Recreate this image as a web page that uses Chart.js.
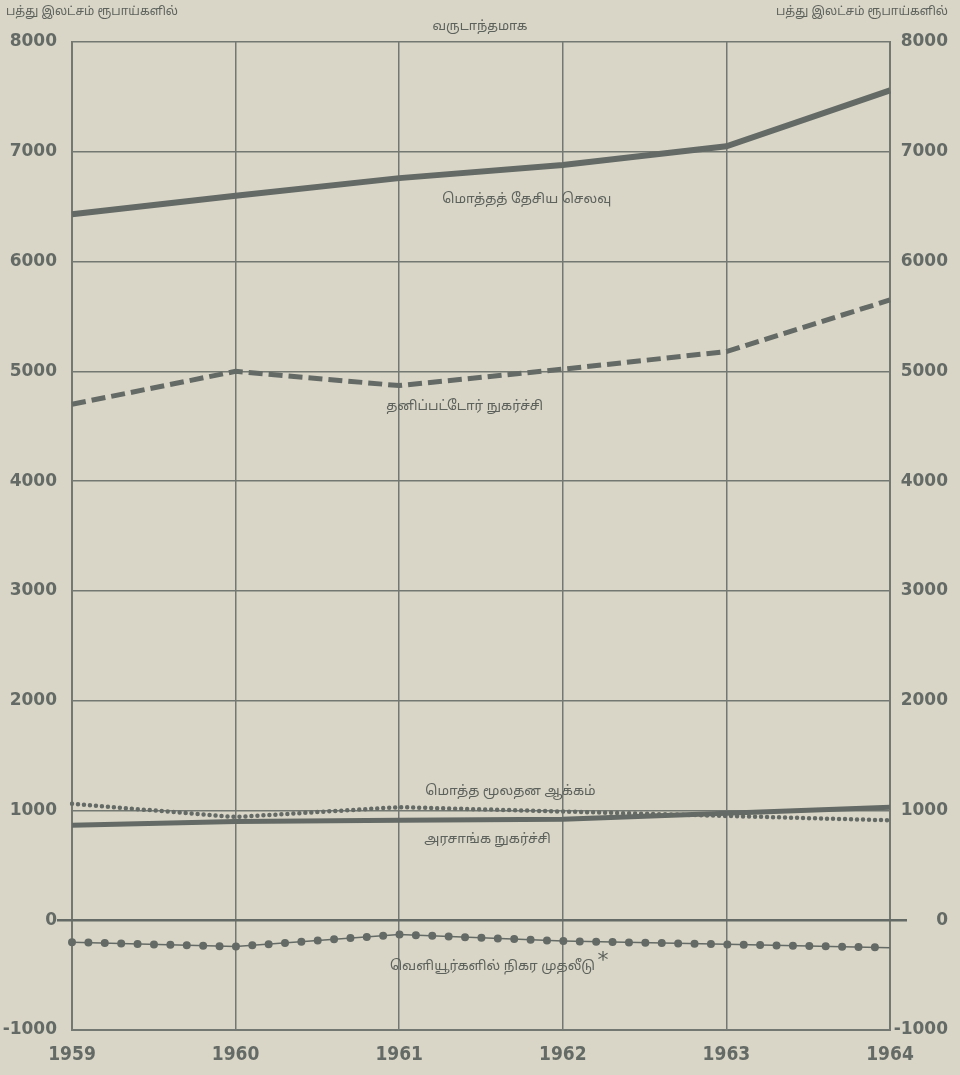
<!DOCTYPE html>
<html>
<head>
<meta charset="utf-8">
<script src="https://cdn.jsdelivr.net/npm/chart.js@4.4.0/dist/chart.umd.min.js"></script>
<style>
  body { margin: 0; background: #d9d6c7; }
  #wrap { position: relative; width: 960px; height: 1075px; }
  .hd { position: absolute; font: 12px "Noto Sans Tamil", "Lohit Tamil", "Noto Sans", sans-serif; color: #5d625d; white-space: nowrap; }
</style>
</head>
<body>
<div id="wrap">
  <canvas id="chart" width="960" height="1075"></canvas>
  <div class="hd" style="left:6px;top:5px">பத்து இலட்சம் ரூபாய்களில்</div>
  <div class="hd" style="right:12px;top:5px">பத்து இலட்சம் ரூபாய்களில்</div>
  <div class="hd" style="left:0;width:960px;text-align:center;top:19px;font-size:13px">வருடாந்தமாக</div>
</div>
<script>
// values in ten-lakh rupees
const years = ['1959', '1960', '1961', '1962', '1963', '1964'];
const totalExpenditure = [6430, 6600, 6760, 6880, 7050, 7560];
const privateConsumption = [4700, 5000, 4870, 5020, 5180, 5650];
const capitalFormation = [1060, 940, 1030, 990, 950, 910];
const govConsumption = [865, 900, 910, 920, 975, 1030];
const foreignInvestment = [-200, -240, -130, -190, -220, -250];
const yMin = -1000, yMax = 8000, yStep = 1000;

const ink = '#646a65';
const gridInk = '#737872';
const tamil = '"Noto Sans Tamil", "Lohit Tamil", "Noto Sans", sans-serif';

// series labels written on the plot (x as year index, y as value)
const seriesLabels = [
  { text: 'மொத்தத் தேசிய செலவு', x: 2.78, y: 6560 },
  { text: 'தனிப்பட்டோர் நுகர்ச்சி', x: 2.40, y: 4670 },
  { text: 'மொத்த மூலதன ஆக்கம்', x: 2.68, y: 1170 },
  { text: 'அரசாங்க நுகர்ச்சி', x: 2.54, y: 730 },
  { text: 'வெளியூர்களில் நிகர முதலீடு', x: 2.57, y: -430, star: true }
];

const zeroLine = {
  id: 'zeroLine',
  beforeDatasetsDraw(chart) {
    const { ctx, chartArea, scales } = chart;
    const y = scales.y.getPixelForValue(0);
    ctx.save();
    ctx.strokeStyle = ink;
    ctx.lineWidth = 2.5;
    ctx.beginPath();
    ctx.moveTo(chartArea.left - 15, y);
    ctx.lineTo(chartArea.right + 17, y);
    ctx.stroke();
    ctx.restore();
  }
};

const lineText = {
  id: 'lineText',
  afterDatasetsDraw(chart) {
    const { ctx, scales } = chart;
    ctx.save();
    ctx.fillStyle = '#5d625d';
    ctx.font = '13.5px ' + tamil;
    ctx.textAlign = 'center';
    ctx.textBaseline = 'middle';
    seriesLabels.forEach(l => {
      const px = scales.x.getPixelForValue(l.x);
      const py = scales.y.getPixelForValue(l.y);
      ctx.fillText(l.text, px, py);
      if (l.star) {
        const w = ctx.measureText(l.text).width;
        ctx.font = '22px "DejaVu Sans", sans-serif';
        ctx.fillText('*', px + w / 2 + 8, py - 6);
        ctx.font = '13.5px ' + tamil;
      }
    });
    ctx.restore();
  }
};

const yFont = { family: '"DejaVu Sans", sans-serif', size: 17, weight: 'bold' };
const xFont = { family: '"Liberation Sans Narrow", "DejaVu Sans Condensed", sans-serif', size: 19, weight: 'bold' };
const plain = v => String(v);

new Chart(document.getElementById('chart'), {
  type: 'line',
  data: {
    labels: years,
    datasets: [
      { data: totalExpenditure, borderColor: ink, borderWidth: 6, pointRadius: 0, tension: 0 },
      { data: privateConsumption, borderColor: ink, borderWidth: 5, borderDash: [14, 6], pointRadius: 0, tension: 0 },
      { data: capitalFormation, borderColor: ink, borderWidth: 4.5, borderDash: [0, 6], borderCapStyle: 'round', pointRadius: 0, tension: 0 },
      { data: govConsumption, borderColor: ink, borderWidth: 5, pointRadius: 0, tension: 0 },
      { data: foreignInvestment, borderColor: ink, borderWidth: 1.5, pointRadius: 0, tension: 0 },
      { data: foreignInvestment, borderColor: ink, borderWidth: 8, borderDash: [0, 16.4], borderCapStyle: 'round', pointRadius: 0, tension: 0 }
    ]
  },
  options: {
    responsive: false,
    animation: false,
    layout: { padding: { top: 42, left: 0, right: 12, bottom: 0 } },
    plugins: { legend: { display: false }, tooltip: { enabled: false }, title: { display: false } },
    scales: {
      x: {
        grid: { color: gridInk, lineWidth: 1.5, drawTicks: false },
        border: { color: gridInk, width: 2 },
        ticks: { color: ink, font: xFont, padding: 14, maxRotation: 0 },
        afterFit(s) { s.height = 45; }
      },
      y: {
        position: 'left',
        min: yMin, max: yMax,
        grid: { color: gridInk, lineWidth: 1.5, drawTicks: false },
        border: { color: gridInk, width: 2 },
        ticks: { stepSize: yStep, color: ink, font: yFont, padding: 15, callback: plain },
        afterFit(s) { s.width = 72; }
      },
      y2: {
        position: 'right',
        min: yMin, max: yMax,
        grid: { display: false, drawTicks: false },
        border: { color: gridInk, width: 2 },
        ticks: { stepSize: yStep, color: ink, font: yFont, crossAlign: 'far', padding: 8, callback: plain },
        afterFit(s) { s.width = 58; }
      }
    }
  },
  plugins: [zeroLine, lineText]
});
</script>
</body>
</html>
